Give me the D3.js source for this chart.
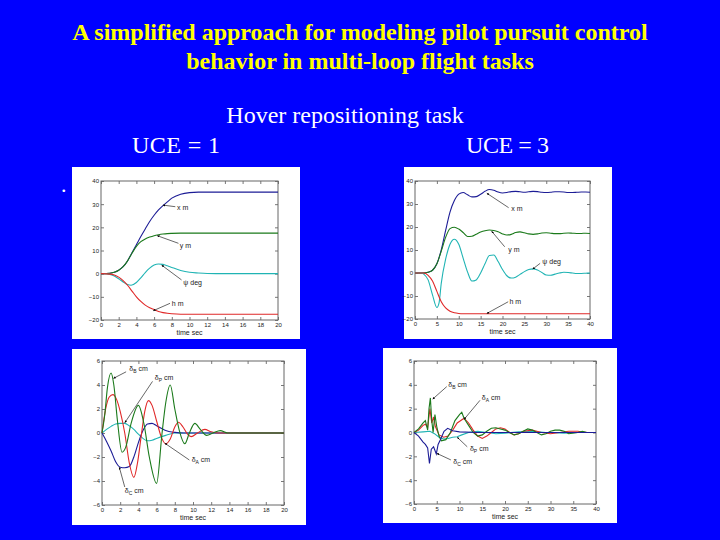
<!DOCTYPE html>
<html><head><meta charset="utf-8">
<script src="https://cdn.jsdelivr.net/npm/d3@7"></script>
<style>body{margin:0;background:#0000ff;}svg{display:block}</style>
</head><body><svg id="c" width="720" height="540"></svg>
<script>
// ---------- text ----------
const titleLines = ["A simplified approach for modeling pilot pursuit control", "behavior in multi-loop flight tasks"];
const subTitle = "Hover repositioning task";
const caseLabels = ["UCE = 1", "UCE = 3"];
const xAxisTitle = "time sec";

// ---------- tick values ----------
const ticksX20 = [0,2,4,6,8,10,12,14,16,18,20];
const ticksX40 = [0,5,10,15,20,25,30,35,40];
const ticksYpos = [-20,-10,0,10,20,30,40];
const ticksYctl = [-6,-4,-2,0,2,4,6];

// ---------- UCE = 1, positions ----------
const p1_x = [[0,0],[1,0.2],[1.5,0.6],[2,1.5],[2.5,3],[3,5.5],[3.5,9],[4,12.5],[4.5,16],[5,19.3],[5.5,22.5],[6,25.2],[6.5,27.5],[7,29.4],[7.5,31],[8,32.6],[9,34.3],[10,35],[11,35.2],[12,35.2],[14,35.2],[16,35.2],[18,35.2],[20,35.2]];
const p1_y = [[0,0],[1,0.2],[1.5,0.6],[2,1.5],[2.5,3],[3,5.5],[3.5,8.8],[4,11.8],[4.5,13.8],[5,15],[5.5,15.8],[6,16.4],[6.5,16.8],[7,17.1],[7.5,17.3],[8,17.4],[9,17.5],[10,17.5],[12,17.5],[14,17.5],[16,17.5],[18,17.5],[20,17.5]];
const p1_psi = [[0,0],[1,-0.3],[1.5,-1],[2,-2.2],[2.5,-3.6],[3,-4.7],[3.4,-5],[4,-3.8],[4.5,-1.8],[5,0.5],[5.5,2.4],[6,3.7],[6.5,4.2],[7,4],[7.5,3.4],[8,2.7],[9,1.4],[10,0.6],[11,0.3],[12,0.1],[14,0],[20,0]];
const p1_h = [[0,0],[1,-0.2],[1.5,-0.6],[2,-1.5],[2.5,-3],[3,-5],[3.5,-7.5],[4,-10],[4.5,-12],[5,-13.6],[5.5,-14.7],[6,-15.5],[6.5,-16.3],[7,-16.8],[7.5,-17.1],[8,-17.3],[9,-17.5],[10,-17.5],[12,-17.5],[20,-17.5]];

// ---------- UCE = 3, positions ----------
const p2_x = [[0,0],[2,0],[3,0.3],[4,1.2],[5,4],[6,10],[7,18.5],[8,26.5],[9,31.5],[10,34.3],[11,35],[12,34],[13,33.1],[14,33.2],[15,34.2],[16,35.5],[17,36.3],[18,36],[19,35.2],[20,34.8],[21,35],[22,35.4],[23,35.5],[24,35.3],[25,35.1],[26,35.3],[27,35.5],[28,35.4],[29,35.1],[30,35],[31,35.1],[32,35.3],[33,35.3],[34,35.2],[35,35],[36,35],[37,35.1],[38,35.2],[39,35.2],[40,35.1]];
const p2_y = [[0,0],[2,0],[3,0.3],[4,1.2],[5,4],[6,9.5],[7,15.5],[8,19.3],[9,19.9],[10,19.1],[11,17.6],[12,15.9],[13,16],[14,16.9],[15,17.8],[16,18.4],[17,18.7],[18,18.5],[19,17.9],[20,17],[21,16.5],[22,16.8],[23,17.6],[24,17.9],[25,17.5],[26,17],[27,16.8],[28,17],[29,17.4],[30,17.5],[31,17.3],[32,17.1],[33,17.1],[34,17.3],[35,17.4],[36,17.3],[37,17.2],[38,17.2],[39,17.3],[40,17.2]];
const p2_psi = [[0,0],[1.5,0],[2,-0.5],[3,-3],[4,-9.5],[5,-15],[5.5,-13],[6,-4.5],[7,6],[8,12.5],[9,14.7],[10,12.5],[11,6.5],[12,0.5],[13,-3.5],[14,-3],[15,0],[16,4],[17,7.6],[18,7.8],[19,5],[20,1.5],[21,-1.2],[22,-2.2],[23,-1.8],[24,-0.6],[25,0.6],[26,1.5],[27,1.8],[28,1.3],[29,0.2],[30,-0.9],[31,-1],[32,-0.5],[33,0],[34,0.3],[35,0.2],[36,0],[37,-0.2],[38,-0.2],[39,-0.1],[40,0]];
const p2_h = [[0,0],[2,0],[3,-1],[4,-3.5],[5,-8],[6,-12.5],[7,-15.2],[8,-16.6],[9,-17.3],[10,-17.6],[11,-17.7],[20,-17.7],[30,-17.7],[40,-17.7]];

// ---------- UCE = 1, controls ----------
const p3_dB = [[0,0],[0.3,1.5],[0.6,3.8],[1,5],[1.3,4],[1.7,1],[2.2,-1.6],[2.6,-1.2],[3.2,0.8],[4,2.3],[4.6,0.8],[5.2,-2],[6,-4.2],[6.6,0],[7,2.5],[7.5,4],[8,2],[8.5,0.2],[9.1,-0.9],[9.6,0],[10.2,0.8],[10.8,0.3],[11.5,-0.2],[12.2,0],[13,0.2],[13.8,0],[16,0],[20,0]];
const p3_dA = [[0,0],[0.4,2],[0.8,3],[1.2,3.2],[1.6,2.8],[2,1.8],[2.5,0],[3,-2.5],[3.5,-3.7],[3.9,-2.5],[4.3,-0.3],[4.7,1.8],[5.1,2.7],[5.5,2.3],[6,1],[6.5,-0.3],[7,-0.9],[7.5,-0.5],[8,0.5],[8.4,0.9],[8.9,0.5],[9.4,-0.1],[9.8,-0.3],[10.5,0],[11.3,0.3],[12,0.1],[12.8,0],[16,0],[20,0]];
const p3_dC = [[0,0],[0.5,-0.7],[1,-1.5],[1.5,-2.4],[2,-2.85],[2.5,-2.9],[3,-2.8],[3.5,-2],[4,-0.8],[4.5,0.2],[5,0.75],[5.5,0.8],[6,0.6],[6.5,0.4],[7,0.2],[8,0.05],[9,0],[20,0]];
const p3_dP = [[0,0],[0.5,0.3],[1,0.55],[1.5,0.75],[2,0.8],[2.5,0.8],[3,0.6],[3.5,0.3],[4,-0.1],[4.5,-0.45],[5,-0.65],[5.5,-0.6],[6,-0.45],[7,-0.2],[8,0],[20,0]];

// ---------- UCE = 3, controls ----------
const p4_dB = [[0,0],[1,0.3],[2,0.8],[2.5,1],[3,0.2],[3.3,2],[3.6,2.9],[3.9,1],[4.2,0],[4.6,1.5],[5,0.5],[5.5,-0.3],[6,-0.7],[7,-0.6],[8,0],[9,1],[10,1.5],[10.5,1.7],[11,1.2],[12,0.6],[13,0],[14,-0.3],[15,-0.2],[16,0.1],[17,0.35],[18,0.4],[19,0.3],[20,0.2],[21,0],[22,-0.2],[23,-0.1],[24,0.1],[25,0.3],[26,0.2],[27,0],[28,-0.2],[29,-0.1],[30,0.1],[31,0.2],[32,0.2],[33,0.1],[34,-0.1],[36,0],[37,0.1],[38,0],[40,0]];
const p4_dA = [[0,0],[1,0.2],[2,0.6],[2.5,0.7],[3,0.4],[3.5,2],[3.9,0.8],[4.3,1.3],[4.7,0.5],[5.5,-0.2],[6.5,-0.4],[7.5,-0.3],[8.5,0.2],[9.5,0.8],[11,1.2],[12,0.8],[13,0.2],[14,-0.3],[15,-0.5],[16,-0.3],[17,0],[18,0.3],[19,0.4],[20,0.3],[21,0],[22,-0.2],[23,-0.1],[24,0.1],[26,0.2],[27,0.1],[28,0],[30,-0.1],[32,0],[34,0.1],[36,0.1],[38,0],[40,0]];
const p4_dC = [[0,0],[1,-0.3],[2,-0.8],[2.5,-1],[3,-1.3],[3.4,-2.6],[3.8,-1.4],[4.3,-1.2],[4.9,-1.8],[5.3,-1],[5.8,-0.6],[6.6,0.1],[7.4,0.35],[8.5,0.15],[10,0.05],[14,0],[40,0]];
const p4_dP = [[0,0],[2,0.05],[3.5,0.1],[4.5,-0.1],[5.5,-0.4],[6.5,-0.55],[7.5,-0.5],[8.5,-0.4],[9.5,-0.35],[10.5,-0.2],[12,0],[14,0.1],[16,0],[18,-0.1],[20,-0.05],[23,0.05],[26,0.1],[29,0],[33,-0.05],[36,0],[40,0]];

// ---------- annotations: label, subscript, text pos, arrow tail, arrow tip (data units) ----------
const p1_notes = [
  {t:"x m", s:"", lx:8.6, ly:27.3, x0:8.4, y0:28.9, x1:7.0, y1:29.6},
  {t:"y m", s:"", lx:8.9, ly:11.1, x0:8.75, y0:13.1, x1:6.35, y1:16.4},
  {t:"\u03c8 deg", s:"", lx:9.3, ly:-4.9, x0:9.1, y0:-2.7, x1:6.85, y1:3.7},
  {t:"h m", s:"", lx:8.0, ly:-14, x0:7.8, y0:-12.8, x1:5.9, y1:-16}
];
const p2_notes = [
  {t:"x m", s:"", lx:22, ly:27, x0:21.4, y0:28.4, x1:16.4, y1:34.7},
  {t:"y m", s:"", lx:21.3, ly:9.1, x0:20.5, y0:11.4, x1:17.5, y1:18.2},
  {t:"\u03c8 deg", s:"", lx:29.1, ly:3.9, x0:28.6, y0:4.2, x1:26.9, y1:1.7},
  {t:"h m", s:"", lx:21.6, ly:-13.5, x0:21.3, y0:-12.5, x1:16.4, y1:-17.6}
];
const p3_notes = [
  {t:"\u03b4", s:"B", u:" cm", lx:3.0, ly:5.2, x0:2.65, y0:5.1, x1:1.25, y1:4.55},
  {t:"\u03b4", s:"P", u:" cm", lx:5.8, ly:4.4, x0:5.55, y0:4.3, x1:2.5, y1:0.85},
  {t:"\u03b4", s:"A", u:" cm", lx:9.85, ly:-2.4, x0:9.6, y0:-2.25, x1:6.9, y1:-0.85},
  {t:"\u03b4", s:"C", u:" cm", lx:2.5, ly:-5.0, x0:2.5, y0:-4.5, x1:1.9, y1:-2.85}
];
const p4_notes = [
  {t:"\u03b4", s:"B", u:" cm", lx:7.55, ly:3.8, x0:7.2, y0:3.85, x1:4.1, y1:2.8},
  {t:"\u03b4", s:"A", u:" cm", lx:14.9, ly:2.7, x0:14.5, y0:2.7, x1:11, y1:1.1},
  {t:"\u03b4", s:"P", u:" cm", lx:12.3, ly:-1.55, x0:11.7, y0:-1.2, x1:9.5, y1:-0.4},
  {t:"\u03b4", s:"C", u:" cm", lx:8.65, ly:-2.65, x0:8.1, y0:-2.3, x1:5, y1:-1.75}
];

// ---------- styles ----------
const C = {blue:"#1c1c96", green:"#1b7a1b", cyan:"#20b4b4", red:"#e02828"};
const SERIF = "Liberation Serif, Times New Roman, serif";

const svg = d3.select("#c");
svg.append("rect").attr("width",720).attr("height",540).attr("fill","#0000ff");

svg.append("defs").append("marker").attr("id","ah")
  .attr("viewBox","0 0 10 10").attr("refX",10).attr("refY",5)
  .attr("markerWidth",4).attr("markerHeight",4).attr("orient","auto")
  .append("path").attr("d","M0,0L10,5L0,10z").attr("fill","#000");

// titles
svg.selectAll("text.title").data(titleLines).join("text")
  .attr("x",360).attr("y",(d,i)=>40+i*29).attr("text-anchor","middle")
  .attr("font-family",SERIF).attr("font-weight","bold")
  .attr("font-size",24).attr("fill","#ffff00").text(d=>d);
svg.append("text").attr("x",345).attr("y",123).attr("text-anchor","middle")
  .attr("font-family",SERIF).attr("font-size",24).attr("fill","#fff").text(subTitle);
svg.append("text").attr("x",132).attr("y",153).attr("textLength",88)
  .attr("font-family",SERIF).attr("font-size",24).attr("fill","#fff").text(caseLabels[0]);
svg.append("text").attr("x",466).attr("y",153).attr("textLength",83)
  .attr("font-family",SERIF).attr("font-size",24).attr("fill","#fff").text(caseLabels[1]);
svg.append("text").attr("x",61).attr("y",192)
  .attr("font-family",SERIF).attr("font-size",22).attr("fill","#fff").text(".");

const panels = [
  {box:[72,167,300,339], plot:[101,181,278,320], xd:[0,20], yd:[-20,40], xt:ticksX20, yt:ticksYpos, curve:d3.curveMonotoneX,
   series:[[p1_x,C.blue],[p1_y,C.green],[p1_psi,C.cyan],[p1_h,C.red]], notes:p1_notes},
  {box:[404,167,612,339], plot:[415,181,590,319], xd:[0,40], yd:[-20,40], xt:ticksX40, yt:ticksYpos, curve:d3.curveMonotoneX,
   series:[[p2_x,C.blue],[p2_y,C.green],[p2_psi,C.cyan],[p2_h,C.red]], notes:p2_notes},
  {box:[72,349,306,525], plot:[102,361,284,505], xd:[0,20], yd:[-6,6], xt:ticksX20, yt:ticksYctl, curve:d3.curveMonotoneX,
   series:[[p3_dP,C.cyan],[p3_dC,C.blue],[p3_dA,C.red],[p3_dB,C.green]], notes:p3_notes},
  {box:[383,348,617,523], plot:[414,361,596,504], xd:[0,40], yd:[-6,6], xt:ticksX40, yt:ticksYctl, curve:d3.curveLinear,
   series:[[p4_dP,C.cyan],[p4_dA,C.red],[p4_dB,C.green],[p4_dC,C.blue]], notes:p4_notes}
];

panels.forEach(p=>{
  const [bx0,by0,bx1,by1]=p.box, [px0,py0,px1,py1]=p.plot;
  svg.append("rect").attr("x",bx0).attr("y",by0).attr("width",bx1-bx0).attr("height",by1-by0).attr("fill","#fff");
  const x=d3.scaleLinear().domain(p.xd).range([px0,px1]);
  const y=d3.scaleLinear().domain(p.yd).range([py1,py0]);
  const g=svg.append("g");
  const fmt=d3.format("d");
  const ax=(gen,tr,vals,lab,pad)=>{
    const a=g.append("g").attr("transform",tr).call(gen.tickValues(vals).tickSizeInner(-3).tickSizeOuter(0).tickPadding(pad).tickFormat(lab?fmt:""));
    a.select(".domain").remove();
    a.selectAll("line").attr("stroke","#555").attr("stroke-width",0.8);
    a.selectAll("text").attr("font-family","Liberation Sans, Arial, sans-serif").attr("font-size",6).attr("fill","#222");
  };
  ax(d3.axisBottom(x),`translate(0,${py1})`,p.xt,true,3);
  ax(d3.axisTop(x),`translate(0,${py0})`,p.xt,false,3);
  ax(d3.axisLeft(y),`translate(${px0},0)`,p.yt,true,2);
  ax(d3.axisRight(y),`translate(${px1},0)`,p.yt,false,3);
  g.append("rect").attr("x",px0).attr("y",py0).attr("width",px1-px0).attr("height",py1-py0)
    .attr("fill","none").attr("stroke","#666").attr("stroke-width",1);
  g.append("text").attr("x",(px0+px1)/2).attr("y",py1+15).attr("text-anchor","middle")
    .attr("font-family","Liberation Sans, Arial, sans-serif").attr("font-size",7).attr("fill","#222").text(xAxisTitle);
  const line=d3.line().x(d=>x(d[0])).y(d=>y(d[1])).curve(p.curve);
  p.series.forEach(([data,col])=>{
    g.append("path").attr("d",line(data)).attr("fill","none").attr("stroke",col).attr("stroke-width",1.1);
  });
  p.notes.forEach(n=>{
    g.append("line").attr("x1",x(n.x0)).attr("y1",y(n.y0)).attr("x2",x(n.x1)).attr("y2",y(n.y1))
      .attr("stroke","#000").attr("stroke-width",0.6).attr("marker-end","url(#ah)");
    const t=g.append("text").attr("x",x(n.lx)).attr("y",y(n.ly))
      .attr("font-family","Liberation Sans, Arial, sans-serif").attr("font-size",7).attr("fill","#222");
    t.append("tspan").text(n.t);
    if(n.s){
      t.append("tspan").attr("dy",2).attr("font-size",5).text(n.s);
      t.append("tspan").attr("dy",-2).text(n.u);
    }
  });
});
</script></body></html>
